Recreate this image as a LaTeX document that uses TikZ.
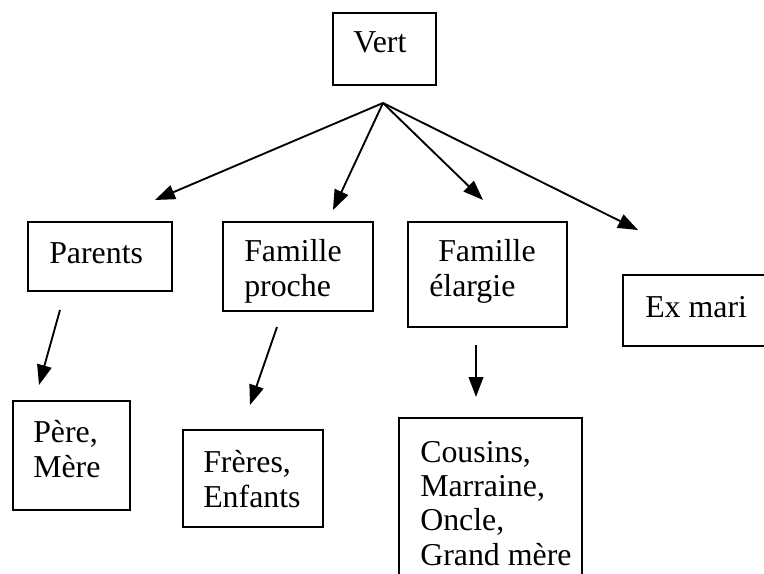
\documentclass[tikz,border=0pt]{standalone}
\usepackage{fontspec}
\setmainfont{Liberation Serif}
\usetikzlibrary{arrows.meta,fit}
\begin{document}
\begin{tikzpicture}[x=0.75pt,y=-0.75pt,
  box/.style={draw, line width=1.4pt, inner sep=0pt},
  txt/.style={anchor=base west, inner sep=0pt, align=left,
    font=\fontsize{23.9pt}{25.7pt}\selectfont},
  arr/.style={line width=1.4pt, -{Triangle[length=15pt,width=11pt]}}]
\useasboundingbox (0,0) rectangle (764,574);
% boxes
\node[box, fit={(333,13) (436,85)}] (vert) {};
\node[box, fit={(28,222) (172,291)}] (parents) {};
\node[box, fit={(223,222) (373,311)}] (proche) {};
\node[box, fit={(408,222) (567,327)}] (elargie) {};
\node[box, fit={(623,275) (780,346)}] (exmari) {};
\node[box, fit={(13,401) (130,510)}] (pere) {};
\node[box, fit={(183,430) (323,527)}] (freres) {};
\node[box, fit={(399,418) (582,590)}] (cousins) {};
% texts (base = baseline of last line)
\node[txt] (vertT) at (353,53) {Vert};
\node[txt] (parentsT) at (49,263) {Parents};
\node[txt] (procheT) at (244,296) {Famille\\proche};
\node[txt] (elargieT1) at (438,262) {Famille};
\node[txt] (elargieT2) at (429,296) {élargie};
\node[txt] (exmariT) at (645,317) {Ex mari};
\node[txt] (pereT) at (33,477) {Père,\\Mère};
\node[txt] (freresT) at (203,507) {Frères,\\Enfants};
\node[txt] (cousinsT) at (420,565) {Cousins,\\Marraine,\\Oncle,\\Grand mère};
% connector end points
\coordinate (o) at (383,103);
\coordinate (t1) at (155,200);
\coordinate (t2) at (333,210);
\coordinate (t3) at (483,200);
\coordinate (t4) at (638,230);
\coordinate (ps) at (60,310);
\coordinate (pt) at (39,385);
\coordinate (fs) at (277,327);
\coordinate (ft) at (250,405);
\coordinate (es) at (476,345);
\coordinate (et) at (476,397);
\draw[arr] (o) -- (t1);
\draw[arr] (o) -- (t2);
\draw[arr] (o) -- (t3);
\draw[arr] (o) -- (t4);
\draw[arr] (ps) -- (pt);
\draw[arr] (fs) -- (ft);
\draw[arr] (es) -- (et);
\end{tikzpicture}
\end{document}
